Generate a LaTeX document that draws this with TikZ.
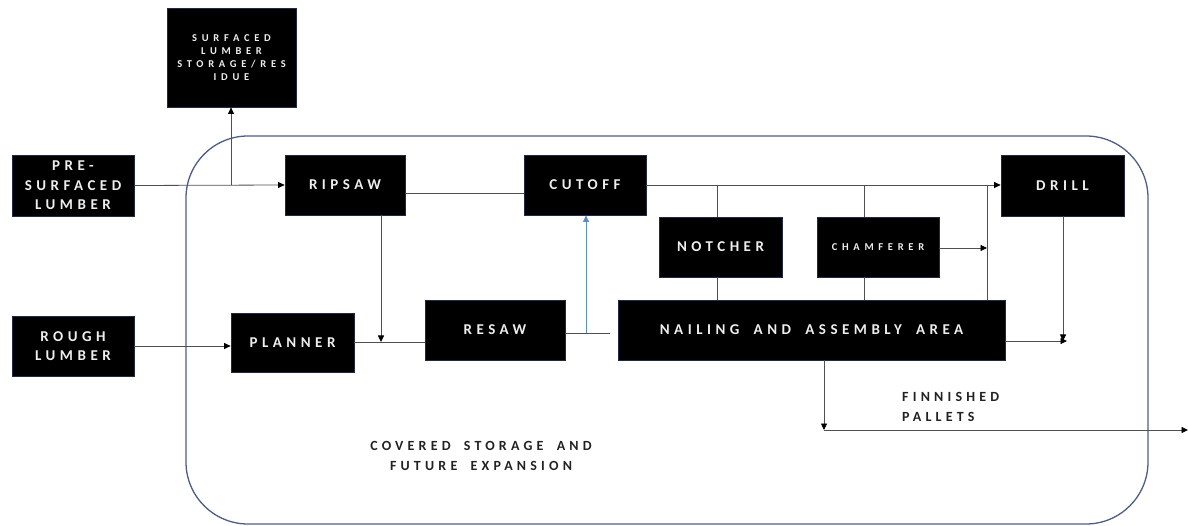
\documentclass[tikz,border=0pt]{standalone}
\usepackage{fontspec}
\setmainfont{Carlito}
\newfontfamily\spaced[LetterSpace=30, WordSpace=1.8]{Carlito Bold}
\newfontfamily\spacedwide[LetterSpace=45, WordSpace=1.8]{Carlito Bold}
\usetikzlibrary{arrows.meta}
\definecolor{boxedge}{HTML}{1E2A46}
\definecolor{boxtext}{HTML}{EEEEEE}
\definecolor{wire}{HTML}{505050}
\definecolor{hall}{HTML}{4D5D84}
\definecolor{feed}{HTML}{5B8CCB}
\definecolor{note}{HTML}{222222}
\tikzset{
  stage/.style={fill=black, draw=boxedge, line width=0.8pt, text=boxtext, inner sep=0pt,
    align=center, font=\spaced\fontsize{15}{19.5}\selectfont},
  smallstage/.style={stage, font=\spacedwide\fontsize{10.5}{13}\selectfont},
  wireline/.style={draw=wire, line width=0.8pt},
  flow/.style={wireline, -{Triangle[length=6.5pt,width=6pt,color=black]}},
  caption/.style={text=note, inner sep=0pt, font=\spaced\fontsize{14}{20}\selectfont}
}
\begin{document}
\begin{tikzpicture}[x=1pt,y=-1pt]
\useasboundingbox (0,0) rectangle (1188,526);

% covered building outline
\draw[hall, line width=1.3pt, rounded corners=62pt] (186,136) rectangle (1148,524);

% process stages
\node[smallstage, minimum width=129pt, minimum height=99pt] (store) at (231.5,57.5) {SURFACED\\LUMBER\\STORAGE/RES\\IDUE};
\node[stage, minimum width=122pt, minimum height=61pt] (pre) at (73,185.5) {PRE-\\SURFACED\\LUMBER};
\node[stage, minimum width=120pt, minimum height=60pt] (ripsaw) at (345,185) {RIPSAW};
\node[stage, minimum width=122pt, minimum height=60pt] (cutoff) at (585,185) {CUTOFF};
\node[stage, minimum width=123pt, minimum height=61pt] (drill) at (1062.5,185.5) {DRILL};
\node[stage, minimum width=123pt, minimum height=60pt] (notcher) at (720.5,247) {NOTCHER};
\node[smallstage, minimum width=122pt, minimum height=60pt] (chamf) at (878,247) {CHAMFERER};
\node[stage, minimum width=387pt, minimum height=60pt] (nail) at (811.5,330) {NAILING AND ASSEMBLY AREA};
\node[stage, minimum width=140pt, minimum height=60pt] (resaw) at (495,330) {RESAW};
\node[stage, minimum width=122pt, minimum height=60pt] (rough) at (73,346) {ROUGH\\LUMBER};
\node[stage, minimum width=123pt, minimum height=59pt] (planner) at (292.5,342.5) {PLANNER};

% junction points
\coordinate (split) at (231,185);
\coordinate (merge) at (381,342);
\coordinate (resawout) at (610,333);
\coordinate (upfeed) at (586,333);
\coordinate (notchx) at (717,0);
\coordinate (chamfx) at (864,0);
\coordinate (collect) at (987,248);
\coordinate (drilldown) at (1063,341);
\coordinate (drop) at (824,430);
\coordinate (ship) at (1188,430);

% connectors
\draw[flow] (pre.east) -- (ripsaw.west);
\draw[flow] (split) -- (split |- store.south);
\draw[wireline] ([yshift=-8pt]ripsaw.east) -- ([yshift=-8pt]ripsaw.east -| cutoff.west);
\draw[flow] (ripsaw.south -| merge) -- (merge);
\draw[wireline] (planner.east) -- (planner.east -| resaw.west);
\draw[flow] (rough.east) -- (rough.east -| planner.west);
\draw[wireline] (resawout -| resaw.east) -- (resawout);
\draw[draw=feed, line width=0.8pt, -{Triangle[length=6.5pt,width=6pt]}] (upfeed) -- (upfeed |- cutoff.south);
\draw[flow] (cutoff.east) -- (cutoff.east -| drill.west);
\draw[wireline] (notchx |- cutoff.east) -- (notchx |- notcher.north);
\draw[wireline] (notchx |- notcher.south) -- (notchx |- nail.north);
\draw[wireline] (chamfx |- cutoff.east) -- (chamfx |- chamf.north);
\draw[wireline] (chamfx |- chamf.south) -- (chamfx |- nail.north);
\draw[flow] (chamf.east |- collect) -- (collect);
\draw[wireline] (collect |- nail.north) -- (collect |- cutoff.east);
\draw[flow] (drilldown |- drill.south) -- (drilldown);
\draw[flow] (nail.east |- drilldown) -- ([xshift=4pt]drilldown);
\draw[flow] (drop |- nail.south) -- (drop);
\draw[flow] (drop) -- (ship);

% captions
\node[caption, anchor=west, align=left] (finished) at (902,407) {FINNISHED\\PALLETS};
\node[caption, align=center] (covered) at (481,456) {COVERED STORAGE AND\\FUTURE EXPANSION};
\end{tikzpicture}
\end{document}
